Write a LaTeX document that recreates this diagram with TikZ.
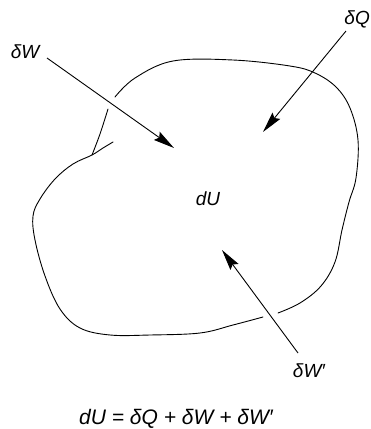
\documentclass[tikz,border=0pt]{standalone}
\usepackage{fontspec}
\setmainfont{Liberation Sans}
\usetikzlibrary{arrows.meta}

\tikzset{
  flow/.style={-{Stealth[length=21pt,width=10pt,inset=3pt]}, line width=0.9pt},
  rim/.style={line width=0.9pt, line cap=round},
  lbl/.style={font=\fontsize{19}{22}\selectfont\itshape, inner sep=0pt}
}

\begin{document}
\begin{tikzpicture}[x=1pt,y=-1pt]
            \useasboundingbox (0,0) rectangle (371,429);
            % system boundary
            \draw[rim] plot[smooth, tension=0.6] coordinates {(115,97) (135,78) (173,61) (233,60) (290,66) (315,73) (336,87) (350,108) (358,140) (356,178) (349,202) (342,230) (335,262) (321,286) (300,303) (278,313)};
            \draw[rim] plot[smooth, tension=0.6] coordinates {(263,317) (233,325) (200,333) (150,335) (110,335) (80,328) (60,309) (45,276) (35,240) (33,216) (40,199) (55,179) (73,164) (92,155) (103,148) (113,142)};
            \draw[rim] plot[smooth, tension=0.6] coordinates {(92,155) (100,134) (108,109)};
            % heat and work
            \coordinate (wtail) at (47,58);
            \coordinate (wtip) at (174,148);
            \coordinate (qtail) at (346,31);
            \coordinate (qtip) at (263,132);
            \coordinate (vtail) at (298,353);
            \coordinate (vtip) at (222,250);
            \draw[flow] (wtail) -- (wtip);
            \draw[flow] (qtail) -- (qtip);
            \draw[flow] (vtail) -- (vtip);
            \node[lbl] (dw) at (25,52) {δW};
            \node[lbl, anchor=east] (dq) at (370,19) {δQ};
            \node[lbl] (dwp) at (309,371) {δW′};
            \node[lbl] (du) at (208,199) {dU};
            \node[lbl, font=\fontsize{21}{24}\selectfont\itshape] (bal) at (176,419) {dU = δQ + δW + δW′};
\end{tikzpicture}
\end{document}
